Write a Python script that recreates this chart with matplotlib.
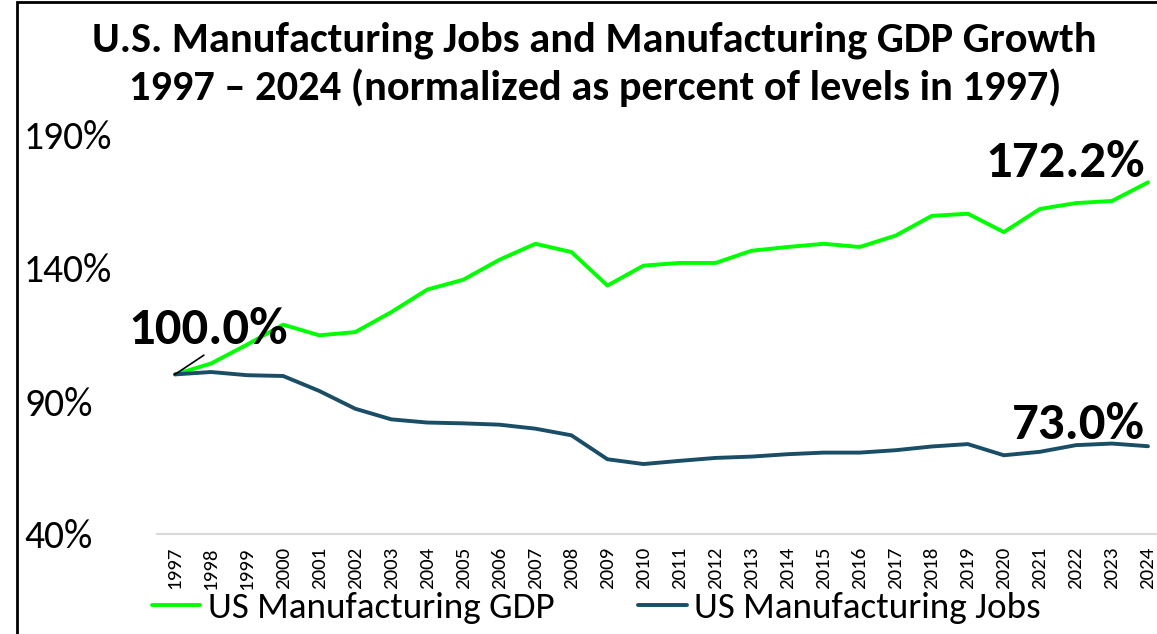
import glob
import numpy as np
import matplotlib
matplotlib.use("Agg")
import matplotlib.pyplot as plt
from matplotlib import font_manager as fm
from matplotlib.patches import Rectangle

for fp in glob.glob("/usr/share/fonts/truetype/crosextra/Carlito-*.ttf"):
    try: fm.fontManager.addfont(fp)
    except Exception: pass
names = {f.name for f in fm.fontManager.ttflist}
FONT = "Carlito" if "Carlito" in names else "Lato"
plt.rcParams["font.family"] = [FONT, "DejaVu Sans"]

years = list(range(1997, 2025))
gdp = [100.0, 104.1, 111.2, 118.7, 114.7, 115.9, 123.4, 131.9, 135.6, 143.1,
       149.1, 146.0, 133.4, 140.9, 141.9, 141.9, 146.5, 147.9, 149.1, 147.9,
       152.2, 159.6, 160.4, 153.5, 162.2, 164.4, 165.2, 172.2]
jobs = [100.0, 100.9, 99.7, 99.4, 93.8, 87.1, 83.1, 81.9, 81.6, 81.1,
        79.6, 77.1, 68.1, 66.3, 67.5, 68.6, 69.1, 70.0, 70.6, 70.6,
        71.5, 72.9, 73.8, 69.6, 70.9, 73.4, 74.0, 73.0]
yticks = [40, 90, 140, 190]

C_GDP, C_JOBS = "#00ff00", "#1a4d66"
PX = 72 / 100  # points per pixel

fig = plt.figure(figsize=(11.57, 6.34), dpi=100)
fig.patches.append(Rectangle((17 / 1157, -0.1), 1.2, 1.1 - 2 / 634, transform=fig.transFigure,
                             fill=False, edgecolor="black", lw=2))
ax = fig.add_axes([157 / 1157, 1 - 534 / 634, 1009 / 1157, (534 - 135) / 634])

ax.plot(years, gdp, color=C_GDP, lw=2.8, label="US Manufacturing GDP", solid_capstyle="round")
ax.plot(years, jobs, color=C_JOBS, lw=2.8, label="US Manufacturing Jobs", solid_capstyle="round")

ax.set_xlim(1996.5, 2024.5)
ax.set_ylim(40, 190)
ax.set_xticks(years)
ax.set_xticklabels([str(y) for y in years], rotation=90, fontsize=15)
ax.set_yticks(yticks)
ax.set_yticklabels([f"{v}%" for v in yticks], fontsize=28.5)
ax.tick_params(axis="both", length=0)
ax.tick_params(axis="x", pad=13 * PX)
ax.tick_params(axis="y", pad=(157 - 24) * PX)
for lab in ax.get_yticklabels():
    lab.set_horizontalalignment("left")
for s in ["top", "right", "left"]:
    ax.spines[s].set_visible(False)
ax.spines["bottom"].set_color("#d9d9d9")
ax.spines["bottom"].set_linewidth(1.5)

ax.annotate(f"{gdp[0]:.1f}%", xy=(years[0], gdp[0]), xytext=(33 * PX, 22 * PX), textcoords="offset points",
            ha="center", va="bottom", fontsize=38, fontweight="bold",
            arrowprops=dict(arrowstyle="-", color="black", lw=1.2, shrinkA=0, shrinkB=0,
                            relpos=(0.5, 0)))
ax.annotate(f"{gdp[-1]:.1f}%", xy=(years[-1], gdp[-1]), xytext=(-3 * PX, -3 * PX), textcoords="offset points",
            ha="right", va="bottom", fontsize=38, fontweight="bold")
ax.annotate(f"{jobs[-1]:.1f}%", xy=(years[-1], jobs[-1]), xytext=(-3 * PX, -1 * PX), textcoords="offset points",
            ha="right", va="bottom", fontsize=38, fontweight="bold")

fig.text(0.514, 1 - 40 / 634, "U.S. Manufacturing Jobs and Manufacturing GDP Growth",
         ha="center", va="center", fontsize=30.5, fontweight="bold")
fig.text(0.514, 1 - 88 / 634, "1997 \u2013 2024 (normalized as percent of levels in 1997)",
         ha="center", va="center", fontsize=30.5, fontweight="bold")

fig.legend(loc="center left", bbox_to_anchor=(152 / 1157, 1 - 608 / 634), ncol=2, frameon=False,
           fontsize=26.7, handlelength=1.3, handletextpad=0.2, columnspacing=2.27,
           borderpad=0, borderaxespad=0)

fig.savefig("out.png", dpi=100, facecolor="white")
